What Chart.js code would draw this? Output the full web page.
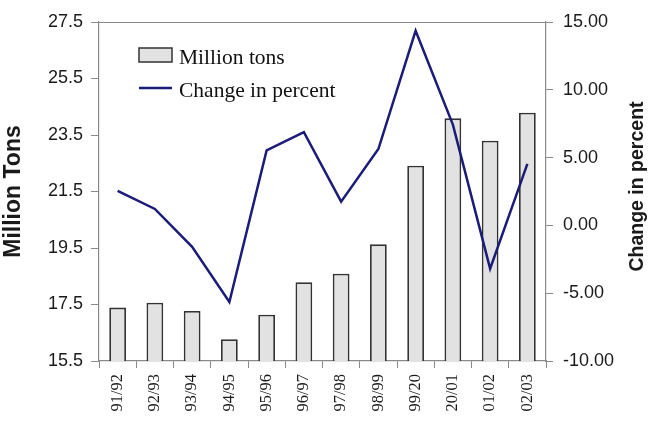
<!DOCTYPE html>
<html>
<head>
<meta charset="utf-8">
<script src="https://cdn.jsdelivr.net/npm/chart.js@4/dist/chart.umd.min.js"></script>
<style>
  html, body { margin: 0; padding: 0; background: #ffffff; }
  #wrap { width: 650px; height: 421px; }
</style>
</head>
<body>
<div id="wrap"><canvas id="chart" width="650" height="421"></canvas></div>
<script>
// Marketing seasons
const seasons = ['91/92', '92/93', '93/94', '94/95', '95/96', '96/97', '97/98', '98/99', '99/20', '20/01', '01/02', '02/03'];
// Output per season, million tons
const millionTons = [17.39, 17.56, 17.27, 16.27, 17.14, 18.29, 18.59, 19.63, 22.41, 24.09, 23.30, 24.29];
// Year-on-year change, percent
const changePercent = [2.54, 1.21, -1.58, -5.65, 5.53, 6.87, 1.75, 5.63, 14.35, 7.43, -3.19, 4.54];

// Axis ranges and tick steps
const tonsAxis = { min: 15.5, max: 27.5, step: 2 };
const pctAxis = { min: -10, max: 15, step: 5 };

const sans = "'Liberation Sans', Arial, sans-serif";
const serif = "'Liberation Serif', 'Times New Roman', serif";
const axisGrey = '#8a8a8a';
const textColor = '#1a1a1a';

// Box around the plot area (top edge has no axis of its own)
const frame = {
  id: 'frame',
  afterDatasetsDraw(chart) {
    const { ctx, chartArea: a } = chart;
    ctx.save();
    ctx.strokeStyle = axisGrey;
    ctx.lineWidth = 1.2;
    ctx.beginPath();
    ctx.moveTo(a.left, a.top + 0.5);
    ctx.lineTo(a.right, a.top + 0.5);
    ctx.stroke();
    ctx.restore();
  }
};

// Legend inside the plot, stacked vertically
const innerLegend = {
  id: 'innerLegend',
  afterDatasetsDraw(chart) {
    const { ctx } = chart;
    const bar = chart.data.datasets[0];
    const line = chart.data.datasets[1];
    const x0 = 139, w = 33;
    ctx.save();
    ctx.fillStyle = bar.backgroundColor;
    ctx.strokeStyle = bar.borderColor;
    ctx.lineWidth = 1.5;
    ctx.fillRect(x0, 48, w, 14);
    ctx.strokeRect(x0, 48, w, 14);
    ctx.strokeStyle = line.borderColor;
    ctx.lineWidth = line.borderWidth;
    ctx.beginPath();
    ctx.moveTo(x0, 88);
    ctx.lineTo(x0 + w, 88);
    ctx.stroke();
    ctx.fillStyle = '#111';
    ctx.font = '21.5px ' + serif;
    ctx.textBaseline = 'alphabetic';
    ctx.textAlign = 'left';
    ctx.fillText(bar.label, 179, 64);
    ctx.fillText(line.label, 179, 97);
    ctx.restore();
  }
};

// Right-hand axis title, reading bottom to top
const rightTitle = {
  id: 'rightTitle',
  afterDraw(chart) {
    const s = chart.scales.yPct;
    const { ctx } = chart;
    ctx.save();
    ctx.translate(s.right - 12, (s.top + s.bottom) / 2 - 5);
    ctx.rotate(-Math.PI / 2);
    ctx.font = 'bold 19.5px ' + sans;
    ctx.fillStyle = textColor;
    ctx.textAlign = 'center';
    ctx.textBaseline = 'middle';
    ctx.fillText('Change in percent', 0, 0);
    ctx.restore();
  }
};

new Chart(document.getElementById('chart'), {
  data: {
    labels: seasons,
    datasets: [
      {
        type: 'bar',
        label: 'Million tons',
        data: millionTons,
        yAxisID: 'yTons',
        backgroundColor: '#e2e2e2',
        borderColor: '#333333',
        borderWidth: 1.8,
        barPercentage: 0.5,
        categoryPercentage: 0.9,
        order: 2
      },
      {
        type: 'line',
        label: 'Change in percent',
        data: changePercent,
        yAxisID: 'yPct',
        borderColor: '#1b1b78',
        backgroundColor: '#1b1b78',
        borderWidth: 2.5,
        pointRadius: 0,
        tension: 0,
        order: 1
      }
    ]
  },
  options: {
    responsive: false,
    animation: false,
    layout: { padding: { top: 22, left: 0, right: 0, bottom: 0 } },
    plugins: {
      legend: { display: false },
      tooltip: { enabled: false }
    },
    scales: {
      x: {
        position: 'bottom',
        offset: true,
        grid: { offset: true, drawOnChartArea: false, color: axisGrey, tickLength: 7 },
        border: { color: axisGrey, width: 1.2 },
        ticks: {
          minRotation: 90, maxRotation: 90, padding: 6,
          color: textColor,
          font: { family: serif, size: 16.5 }
        },
        afterFit(s) { s.height = 60; }
      },
      yTons: {
        position: 'left',
        min: tonsAxis.min, max: tonsAxis.max,
        grid: { drawOnChartArea: false, color: axisGrey, tickLength: 8 },
        border: { color: axisGrey, width: 1.2 },
        ticks: {
          stepSize: tonsAxis.step, padding: 8,
          color: textColor,
          font: { family: sans, size: 18 },
          callback: v => Number(v).toFixed(1)
        },
        title: {
          display: true, text: 'Million Tons',
          color: textColor,
          font: { family: sans, size: 23, weight: 'bold' },
          padding: { top: 0, bottom: 7 }
        },
        afterFit(s) { s.width = 99; }
      },
      yPct: {
        position: 'right',
        min: pctAxis.min, max: pctAxis.max,
        grid: { drawOnChartArea: false, color: axisGrey, tickLength: 7 },
        border: { color: axisGrey, width: 1.2 },
        ticks: {
          stepSize: pctAxis.step, padding: 10,
          color: textColor,
          font: { family: sans, size: 18 },
          callback: v => Number(v).toFixed(2)
        },
        afterFit(s) { s.width = 104; }
      }
    }
  },
  plugins: [frame, innerLegend, rightTitle]
});
</script>
</body>
</html>
